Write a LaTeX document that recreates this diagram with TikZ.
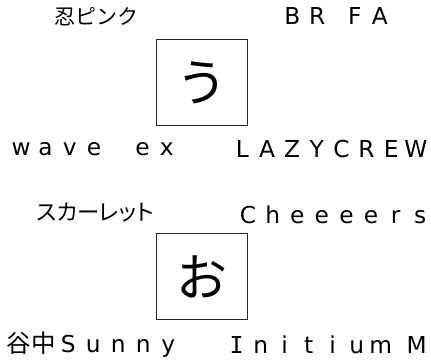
\documentclass[tikz,border=0pt]{standalone}
\usepackage{fontspec}
\newfontfamily\jp{Noto Sans CJK JP}
\newfontfamily\jpp[RawFeature=+palt]{Noto Sans CJK JP}
\newfontfamily\lat{DejaVu Sans}
\newfontfamily\latm{DejaVu Sans Mono}
% fixed-pitch cells: \fwcells{pitch}{characters}
\let\fwend\relax
\newcommand\fwcells[2]{\def\fwp{#1}\fwloop#2\fwend}
\def\fwloop#1{\ifx\fwend#1\else\makebox[\fwp]{#1}\expandafter\fwloop\fi}
\begin{document}
\begin{tikzpicture}[x=1pt,y=-1pt,
  lbl/.style={inner sep=0pt, font=\lat\fontsize{23.3}{26}\selectfont, text=black},
  jlbl/.style={inner sep=0pt, font=\jp\fontsize{21}{24}\selectfont, text=black},
  plbl/.style={inner sep=0pt, font=\jpp\fontsize{22.3}{25}\selectfont, text=black},
  kbox/.style={draw=black!85, line width=1pt, minimum width=91pt, minimum height=86pt, inner sep=0pt, font=\jp\fontsize{51}{53}\selectfont}]
\useasboundingbox (0,0) rectangle (431,364);
% first group
\node[jlbl] (a1) at (96,17) {忍ピンク};
\node[lbl] (a2) at (336,16.5) {\fwcells{25pt}{BR}\hspace{12.5pt}\fwcells{25pt}{FA}};
\node[kbox] (b1) at (201.5,82.5) {う};
\node[lbl] (a3) at (94,149) {\fwcells{24.3pt}{wave~ex}};
\node[lbl] (a4) at (329.2,149) {\fwcells{24.8pt}{LAZYCREW}};
% second group
\node[plbl] (c1) at (95,213) {スカーレット};
\node[lbl] (c2) at (334.2,214.5) {\fwcells{24.6pt}{Cheeeers}};
\node[kbox] (b2) at (201.5,276.5) {お};
\node[lbl] (c3) at (93.3,345) {\fwcells{25pt}{{\jp\fontsize{24.5}{26}\selectfont 谷}{\jp\fontsize{24.5}{26}\selectfont 中}Sunny}};
\node[lbl] (c4) at (326.7,345) {\fwcells{24pt}{{\latm I}nitium}\hspace{12pt}\fwcells{24pt}{M}};
\end{tikzpicture}
\end{document}
